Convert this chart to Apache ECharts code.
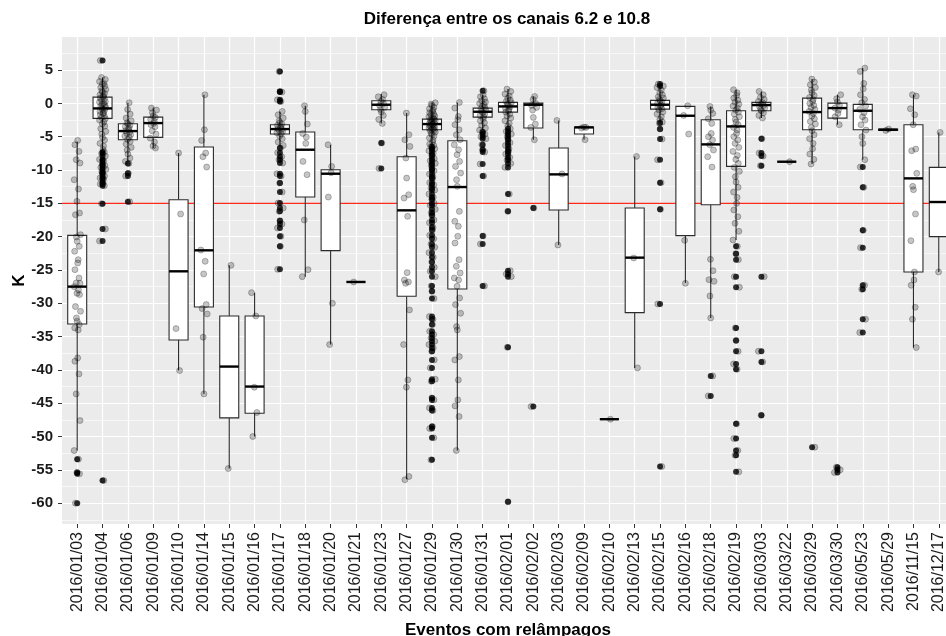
<!DOCTYPE html>
<html>
<head>
<meta charset="utf-8">
<script src="https://cdn.jsdelivr.net/npm/echarts@6/dist/echarts.min.js"></script>
<style>
html,body{margin:0;padding:0;background:#ffffff;overflow:hidden;}
#chart{width:946px;height:636px;}
</style>
</head>
<body>
<div id="chart"></div>
<script>
// ---------------- DATA ----------------
const categories = ["2016/01/03","2016/01/04","2016/01/06","2016/01/09","2016/01/10","2016/01/14","2016/01/15","2016/01/16","2016/01/17","2016/01/18","2016/01/20","2016/01/21","2016/01/23","2016/01/27","2016/01/29","2016/01/30","2016/01/31","2016/02/01","2016/02/02","2016/02/03","2016/02/09","2016/02/10","2016/02/13","2016/02/15","2016/02/16","2016/02/18","2016/02/19","2016/03/03","2016/03/22","2016/03/29","2016/03/30","2016/05/23","2016/05/29","2016/11/15","2016/12/17"];

// box statistics
const whiskerLow  = [-52.1,-7.0,-8.7,-6.7,-40.1,-43.6,-54.8,-50.0,-6.5,-26.0,-36.2,-26.8,-3.0,-56.4,-6.3,-52.1,-4.0,-3.5,-5.45,-21.25,-5.45,-47.4,-39.7,-2.8,-26.95,-32.2,-20.5,-2.2,-8.75,-9.1,-3.2,-8.45,-4.2,-36.65,-25.3];
const quartile1   = [-33.1,-2.25,-5.45,-5.1,-35.5,-30.55,-47.2,-46.5,-4.6,-14.05,-22.1,-26.8,-0.95,-28.95,-3.95,-27.85,-2.05,-1.3,-3.7,-16.0,-4.6,-47.4,-31.4,-0.85,-19.85,-15.2,-9.45,-1.1,-8.75,-3.95,-2.2,-3.95,-4.05,-25.3,-20.0];
const median      = [-27.5,-0.75,-4.15,-2.95,-25.2,-22.05,-39.5,-42.5,-3.85,-6.95,-10.55,-26.8,-0.2,-16.05,-3.1,-12.55,-1.25,-0.45,-0.2,-10.65,-3.6,-47.4,-23.15,-0.2,-1.85,-6.15,-3.45,-0.25,-8.75,-1.3,-0.7,-1.1,-3.95,-11.25,-14.8];
const quartile3   = [-19.8,0.95,-3.05,-2.05,-14.45,-6.55,-31.9,-31.9,-3.2,-4.3,-9.95,-26.8,0.4,-8.0,-2.35,-5.6,-0.7,0.15,0.05,-6.7,-3.55,-47.4,-15.7,0.45,-0.45,-2.45,-1.1,0.15,-8.75,0.8,0.05,-0.15,-3.85,-3.2,-9.6];
const whiskerHigh = [-5.7,3.9,0.1,-0.6,-7.45,1.3,-24.3,-28.4,-1.2,-0.35,-6.2,-26.8,1.4,-1.45,0.1,0.15,1.3,2.15,1.05,-2.55,-3.55,-47.4,-7.95,2.4,-0.35,-0.45,2.05,1.8,-8.75,3.65,1.3,5.3,-3.8,1.3,-4.35];

// outliers (black dots) per event
const outliers = [
  [-53.4,-55.4,-55.6,-60.0],
  [6.45,-7.3,-7.5,-7.9,-8.4,-8.6,-9.1,-9.3,-9.6,-9.9,-10.3,-10.5,-10.9,-11.2,-11.4,-11.9,-12.1,-12.35,-15.05,-18.85,-20.65,-56.6],
  [-9.0,-10.5,-10.9,-14.75],
  [],[],[],[],[],
  [4.8,1.8,1.7,0.55,0.3,-6.7,-7.4,-8.0,-8.45,-8.95,-10.55,-10.9,-11.95,-13.3,-14.95,-15.7,-16.2,-17.6,-18.1,-18.7,-19.95,-21.45,-24.9],
  [],[],[],
  [-5.95,-9.75],
  [],
  [-6.5,-6.8,-7.1,-7.5,-7.8,-8.3,-8.6,-9.0,-9.3,-9.8,-10.1,-10.6,-11.0,-11.3,-11.9,-12.2,-12.7,-13.0,-13.6,-14.1,-14.4,-15.0,-15.3,-15.9,-16.4,-16.8,-17.5,-17.9,-18.6,-19.0,-19.8,-20.3,-21.1,-21.6,-22.4,-23.1,-23.8,-24.6,-25.2,-26.0,-27.4,-28.2,-29.3,-32.0,-32.4,-33.2,-34.2,-34.7,-35.2,-35.7,-36.2,-36.7,-37.2,-38.5,-39.7,-41.4,-41.7,-44.2,-44.5,-45.7,-46.1,-48.5,-48.8,-50.2,-53.5],
  [],
  [1.9,-4.3,-4.6,-5.0,-5.3,-6.2,-6.95,-7.3,-9.1,-10.9,-19.9,-21.1,-27.4],
  [-3.8,-4.2,-4.6,-5.0,-5.4,-5.9,-6.3,-6.8,-7.2,-7.6,-8.1,-8.5,-9.0,-9.6,-13.6,-16.2,-25.1,-25.6,-26.0,-36.6,-59.8],
  [-15.7,-45.5],
  [],[],[],[],
  [2.9,2.6,-2.95,-3.85,-5.35,-8.45,-11.9,-15.9,-30.1,-54.5],
  [],
  [-40.9,-43.9],
  [-21.45,-22.55,-23.45,-26.0,-27.6,-33.7,-35.6,-37.2,-39.1,-39.9,-48.1,-50.3,-52.1,-52.8,-55.3],
  [-5.3,-7.45,-7.9,-9.35,-26.0,-37.2,-38.8,-46.8],
  [],
  [-51.6],
  [-54.6,-55.0,-55.4],
  [-9.55,-12.6,-19.05,-21.65,-27.3,-27.9,-32.4,-34.4],
  [],[],[]
];

// remaining individual observations (grey jittered dots) per event
const points = [
  [-5.55,-6.2,-7.2,-8.45,-8.95,-11.45,-12.85,-14.7,-16.45,-16.7,-19.7,-20.05,-20.7,-21.45,-22.2,-23.45,-23.95,-24.95,-26.2,-26.95,-27.0,-27.5,-28.0,-28.5,-28.7,-30.5,-31.2,-32.2,-32.7,-33.2,-33.7,-34.0,-38.2,-38.7,-40.6,-43.6,-47.6,-52.1],
  [3.9,3.6,3.3,3.0,2.9,2.6,2.4,2.1,1.9,1.7,1.5,1.3,1.1,1.0,0.8,0.7,0.5,0.3,0.2,0.0,-0.1,-0.3,-0.4,-0.6,-0.7,-0.9,-1.0,-1.2,-1.4,-1.5,-1.7,-1.9,-2.1,-2.3,-2.5,-2.8,-3.1,-3.4,-3.8,-4.2,-4.6,-5.1,-5.5,-6.0,-6.4,-6.9],
  [0.1,-0.9,-1.6,-2.2,-2.6,-2.9,-3.1,-3.3,-3.5,-3.7,-3.9,-4.1,-4.3,-4.5,-4.7,-4.9,-5.1,-5.4,-5.7,-6.1,-6.6,-7.0,-7.6,-8.2,-8.7],
  [-0.7,-1.0,-1.4,-1.9,-2.1,-2.4,-2.7,-3.0,-3.2,-3.5,-4.1,-4.6,-5.2,-5.8,-6.4,-6.7],
  [-7.45,-16.6,-33.8,-40.1],
  [1.3,-3.95,-5.55,-7.45,-8.0,-9.55,-22.0,-23.7,-25.6,-30.2,-30.8,-31.6,-35.1,-43.6],
  [-24.3,-54.8],
  [-28.4,-31.9,-42.6,-46.4,-50.0],
  [-1.2,-1.7,-2.2,-2.6,-2.9,-3.1,-3.3,-3.5,-3.6,-3.8,-3.9,-4.0,-4.2,-4.4,-4.6,-4.9,-5.3,-5.8,-6.3],
  [-0.35,-1.2,-3.1,-4.5,-5.05,-6.0,-8.7,-10.7,-17.5,-24.95,-26.0],
  [-6.2,-9.45,-10.4,-14.05,-30.0,-36.2],
  [-26.8],
  [1.3,1.0,0.6,0.3,0.0,-0.3,-0.6,-0.9,-1.3,-1.8,-2.4,-3.0],
  [-1.45,-4.7,-5.45,-6.45,-8.2,-11.2,-13.7,-14.2,-16.95,-25.4,-26.5,-26.8,-27.0,-31.0,-36.2,-41.5,-42.6,-56.0,-56.5],
  [0.1,-0.1,-0.3,-0.6,-0.8,-1.0,-1.2,-1.4,-1.6,-1.7,-1.9,-2.0,-2.2,-2.3,-2.4,-2.5,-2.6,-2.7,-2.8,-2.9,-3.0,-3.1,-3.2,-3.3,-3.4,-3.5,-3.6,-3.7,-3.8,-3.9,-4.0,-4.1,-4.3,-4.5,-4.7,-4.9,-5.2,-5.5,-5.8,-6.1,-6.3],
  [0.15,-0.7,-1.95,-2.45,-3.2,-3.95,-4.7,-5.45,-6.2,-6.95,-7.7,-8.7,-9.45,-10.45,-11.45,-12.45,-16.2,-17.7,-18.45,-19.95,-20.95,-23.45,-24.45,-25.45,-26.2,-26.5,-27.45,-29.2,-30.2,-31.5,-33.5,-34.0,-38.0,-38.5,-41.5,-44.5,-45.4,-47.0,-52.1],
  [1.3,1.0,0.7,0.4,0.2,0.0,-0.2,-0.4,-0.6,-0.8,-1.0,-1.2,-1.4,-1.6,-1.8,-2.0,-2.3,-2.6,-2.9,-3.3,-3.7,-4.0],
  [2.15,1.8,1.4,1.1,0.8,0.5,0.3,0.1,-0.1,-0.3,-0.5,-0.7,-0.9,-1.1,-1.3,-1.6,-1.9,-2.2,-2.6,-3.0,-3.4],
  [1.05,0.6,0.0,-0.3,-0.6,-1.0,-2.1,-3.1,-3.6,-5.45],
  [-2.55,-10.6,-21.25],
  [-3.55,-3.6,-3.7,-5.45],
  [-47.4],
  [-7.95,-23.2,-39.7],
  [2.4,2.0,1.6,1.3,1.0,0.8,0.6,0.4,0.2,0.0,-0.2,-0.4,-0.6,-0.8,-1.0,-1.3,-1.6,-2.0,-2.4,-2.8],
  [-0.35,-1.8,-4.6,-20.55,-27.0],
  [-0.45,-1.0,-1.5,-2.3,-3.0,-4.5,-5.0,-5.5,-6.2,-7.0,-8.0,-9.55,-23.4,-25.1,-26.45,-26.7,-28.9,-32.2],
  [2.05,1.6,1.2,0.8,0.5,0.2,-0.1,-0.4,-0.7,-1.0,-1.3,-1.6,-2.0,-2.4,-2.8,-3.2,-3.6,-4.0,-4.5,-5.0,-5.5,-6.0,-6.6,-7.2,-7.8,-8.4,-9.0,-9.6,-10.2,-11.0,-11.8,-12.6,-13.3,-14.1,-15.0,-16.0,-17.0,-18.0,-19.2,-20.5],
  [1.8,1.3,0.9,0.6,0.3,0.1,-0.1,-0.3,-0.5,-0.7,-0.9,-1.1,-1.4,-1.8,-2.2],
  [-8.75],
  [3.65,3.2,2.8,2.4,2.0,1.6,1.2,0.9,0.6,0.3,0.0,-0.3,-0.6,-0.9,-1.2,-1.5,-1.9,-2.3,-2.7,-3.1,-3.6,-4.1,-4.7,-5.3,-6.0,-6.8,-7.6,-8.4,-9.1],
  [1.3,0.7,0.2,-0.3,-0.7,-1.0,-1.5,-2.0,-3.2],
  [5.3,4.8,3.0,2.2,1.3,0.6,0.1,-0.4,-0.9,-1.4,-2.0,-2.5,-3.2,-4.0,-5.0,-6.0,-8.45],
  [-3.85,-4.05],
  [1.3,1.1,-0.8,-1.7,-3.2,-6.85,-7.1,-10.5,-12.45,-12.95,-16.6,-20.6,-25.3,-26.5,-27.3,-30.6,-32.4,-36.65],
  [-4.35,-25.3]
];

const yTickLabels = [-60,-55,-50,-45,-40,-35,-30,-25,-20,-15,-10,-5,0,5];
const yMinorTicks = [-62.5,-57.5,-52.5,-47.5,-42.5,-37.5,-32.5,-27.5,-22.5,-17.5,-12.5,-7.5,-2.5,2.5,7.5];
const referenceLine = [-15];

// ---------------- STYLE / LAYOUT ----------------
const Y_MIN = -63.13, Y_MAX = 9.97;
const X_MIN = -0.6, X_MAX = categories.length - 1 + 0.6;
const BOX_WIDTH = 0.75;
const JITTER = [0.02,-0.09,0.07,-0.04,0.11,-0.12,0.05,-0.01,0.09,-0.07,0.13,-0.03,0.0,0.08,-0.1,0.04];
const FONT = "'Liberation Sans', Arial, sans-serif";
const RED = '#ff2a1a';

const xIndex = categories.map((c, i) => i);
const boxData = categories.map((c, i) => [i, whiskerLow[i], quartile1[i], median[i], quartile3[i], whiskerHigh[i]]);
const outlierData = [];
outliers.forEach((arr, i) => arr.forEach(v => outlierData.push([i, v])));
const jitterData = [];
categories.forEach((c, i) => {
  points[i].concat(outliers[i]).forEach((v, k) => jitterData.push([i + JITTER[(k + i * 3) % JITTER.length], v]));
});

function renderBox(params, api) {
  const x = api.value(0);
  const lo = api.coord([x, api.value(1)]);
  const b1 = api.coord([x, api.value(2)]);
  const md = api.coord([x, api.value(3)]);
  const b3 = api.coord([x, api.value(4)]);
  const hi = api.coord([x, api.value(5)]);
  const hw = api.size([BOX_WIDTH, 0])[0] / 2;
  const cx = lo[0];
  const ln = {stroke: '#2b2b2b', lineWidth: 1.1};
  return {
    type: 'group',
    children: [
      {type: 'line', shape: {x1: cx, y1: hi[1], x2: cx, y2: b3[1]}, style: ln},
      {type: 'line', shape: {x1: cx, y1: b1[1], x2: cx, y2: lo[1]}, style: ln},
      {type: 'rect', shape: {x: cx - hw, y: b3[1], width: 2 * hw, height: Math.max(b1[1] - b3[1], 0)}, style: {fill: '#ffffff', stroke: '#2b2b2b', lineWidth: 1.1}},
      {type: 'line', shape: {x1: cx - hw, y1: md[1], x2: cx + hw, y2: md[1]}, style: {stroke: '#000000', lineWidth: 2.4}}
    ]
  };
}

function renderHLine(params, api) {
  const y = api.value(0);
  const a = api.coord([X_MIN, y]);
  const b = api.coord([X_MAX, y]);
  return {type: 'line', shape: {x1: a[0], y1: a[1], x2: b[0], y2: b[1]}, style: {stroke: RED, lineWidth: 1.2}};
}

const chart = echarts.init(document.getElementById('chart'), null, {renderer: 'canvas'});
chart.setOption({
  animation: false,
  backgroundColor: '#ffffff',
  title: {
    text: 'Diferença entre os canais 6.2 e 10.8',
    left: 507, top: 11, textAlign: 'center', padding: 0,
    textStyle: {fontFamily: FONT, fontWeight: 'bold', fontSize: 17, color: '#000000'}
  },
  grid: {
    left: 62, top: 37, width: 892, height: 487,
    show: true, backgroundColor: '#ebebeb', borderWidth: 0,
    containLabel: false, outerBoundsMode: 'none'
  },
  xAxis: {
    type: 'value', min: X_MIN, max: X_MAX,
    name: 'Eventos com relâmpagos', nameLocation: 'middle', nameGap: 98,
    nameTextStyle: {fontFamily: FONT, fontWeight: 'bold', fontSize: 17, color: '#000000', verticalAlign: 'top'},
    axisLine: {show: false, onZero: false},
    axisTick: {show: true, customValues: xIndex, length: 4, lineStyle: {color: '#333333', width: 1}},
    axisLabel: {customValues: xIndex, rotate: 90, margin: 8, fontFamily: FONT, fontSize: 16, color: '#1a1a1a',
      formatter: v => categories[Math.round(v)] || ''},
    splitLine: {show: true, lineStyle: {color: '#ffffff', width: 1.2}}
  },
  yAxis: [{
    type: 'value', min: Y_MIN, max: Y_MAX, position: 'left',
    name: 'K', nameLocation: 'middle', nameGap: 34, nameRotate: 90, nameMoveOverlap: false,
    nameTextStyle: {fontFamily: FONT, fontWeight: 'bold', fontSize: 17, color: '#000000'},
    axisLine: {show: false, onZero: false},
    axisTick: {show: true, customValues: yTickLabels, length: 4, lineStyle: {color: '#333333', width: 1}},
    axisLabel: {customValues: yTickLabels, margin: 9, fontFamily: FONT, fontWeight: 'bold', fontSize: 15, color: '#1a1a1a'},
    splitLine: {show: true, lineStyle: {color: '#ffffff', width: 1.2}}
  }, {
    type: 'value', min: Y_MIN, max: Y_MAX, position: 'left',
    axisLine: {show: false, onZero: false},
    axisTick: {show: false, customValues: yMinorTicks},
    axisLabel: {show: false, customValues: yMinorTicks},
    splitLine: {show: true, lineStyle: {color: '#ffffff', width: 0.6}}
  }],
  series: [
    {
      type: 'custom', z: 1, silent: true,
      renderItem: renderHLine,
      encode: {y: 0},
      data: referenceLine.map(v => [v])
    },
    {
      type: 'custom', z: 2, silent: true,
      renderItem: renderBox,
      encode: {x: 0, y: [1, 2, 3, 4, 5]},
      data: boxData
    },
    {
      type: 'scatter', z: 3, silent: true, symbol: 'circle', symbolSize: 6,
      itemStyle: {color: '#000000'},
      data: outlierData
    },
    {
      type: 'scatter', z: 4, silent: true, symbol: 'circle', symbolSize: 6,
      itemStyle: {color: 'rgba(0,0,0,0.28)', borderColor: 'rgba(0,0,0,0.35)', borderWidth: 0.9},
      data: jitterData
    }
  ]
});
</script>
</body>
</html>
